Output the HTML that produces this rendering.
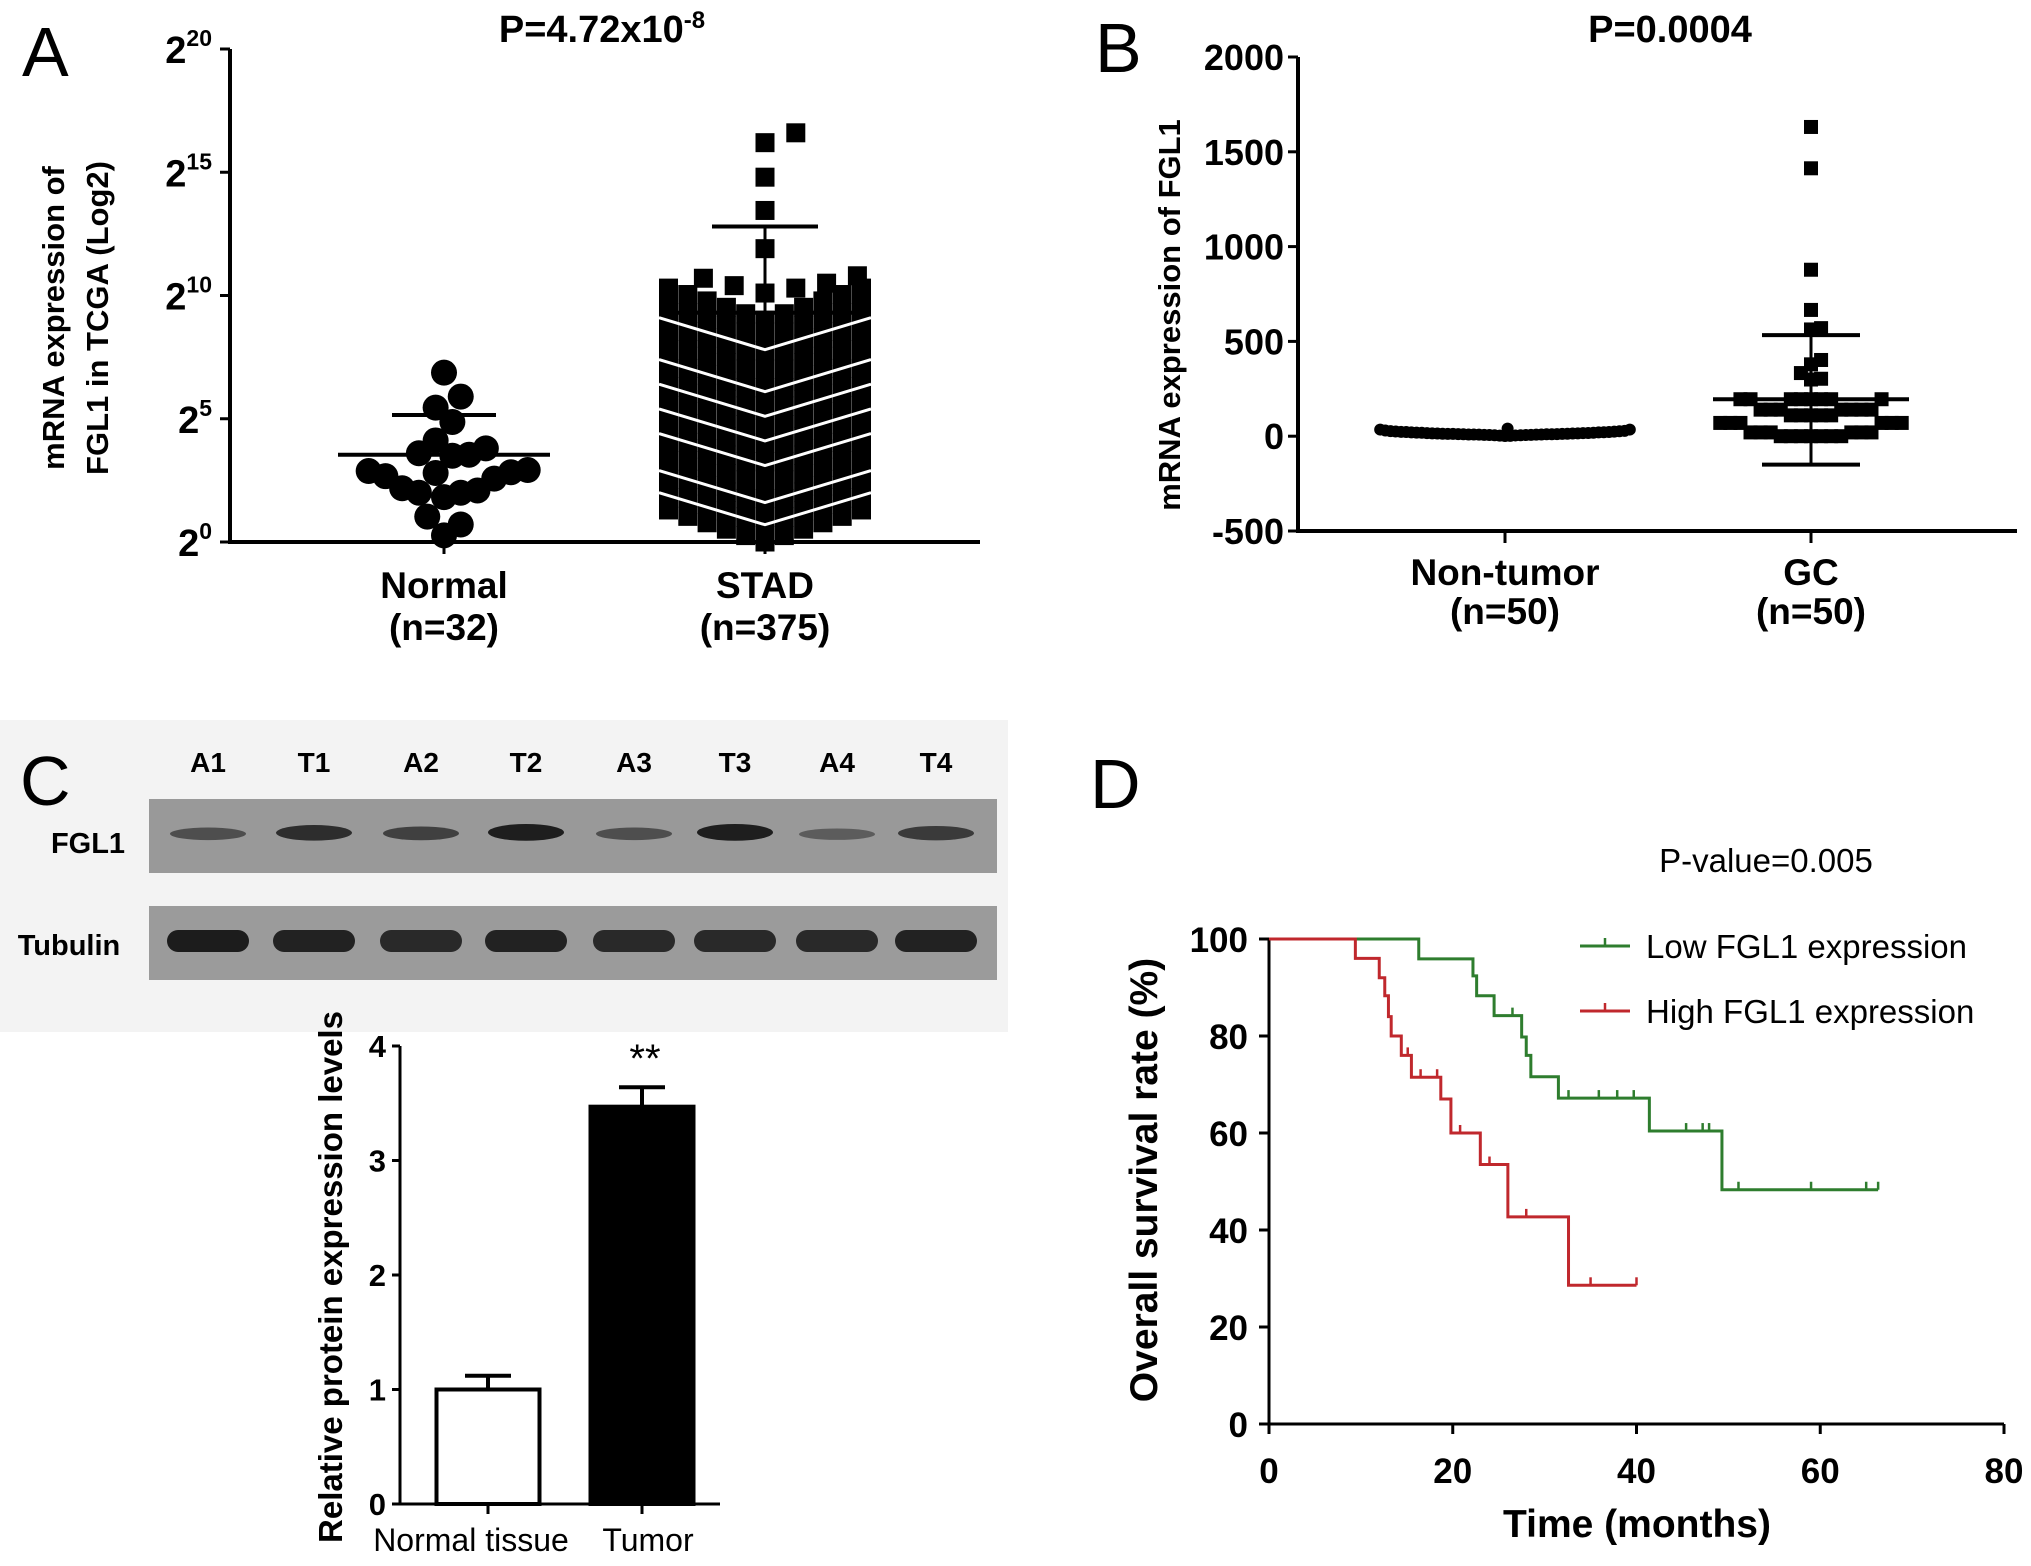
<!DOCTYPE html>
<html><head><meta charset="utf-8">
<style>
html,body{margin:0;padding:0;background:#fff;}
svg{display:block;}
text{font-family:"Liberation Sans Narrow","Liberation Sans",Arial,sans-serif;}
.b{font-weight:bold;}
</style></head>
<body>
<svg id="fig" width="2031" height="1566" viewBox="0 0 2031 1566" xmlns="http://www.w3.org/2000/svg">
<rect x="0" y="0" width="2031" height="1566" fill="#fff"/>
<g id="pA"></g>
<g id="pB"></g>
<g id="pC"></g>
<g id="pD"></g>
</svg>
<script>
// ---------- DATA ----------
const aCategories = ["Normal", "STAD"];
const aCatN = ["(n=32)", "(n=375)"];
const aTicks = [0, 5, 10, 15, 20];
const normalValues = [6.87,5.9,5.45,4.87,4.12,3.6,3.5,3.54,3.8,2.67,2.88,2.8,2.83,2.92,2.57,2.18,2.0,1.82,2.0,2.09,1.03,0.71,0.27];
const normalMean = 3.54, normalSD = 5.15;
const stadRowValues = [0.0,0.75,1.5,2.25,3.0,3.75,4.5,5.25,6.0,6.75,7.5,8.25,9.0];
const stadRowCounts = [11,11,11,11,11,11,11,11,11,11,11,11,11];
const stadGapLevels = [7.8,6.1,5.1,4.1,3.1,1.6,0.7];
const stadOutliers = [16.6,16.2,14.8,13.45,11.9,10.7,10.4,10.1,10.3,10.5,10.8];
const stadMean = 9.3, stadSD = 12.8;
const bCategories = ["Non-tumor", "GC"];
const bCatN = ["(n=50)", "(n=50)"];
const bTicks = [-500, 0, 500, 1000, 1500, 2000];
const nonTumorValues = [5,8,10,12,15,18,20,22,25,28,30,35,40,3,6,9,11,14,16,19,21,24,27,2,4,7,13,17,23,26,1,5,9,12,15,18,22,10,8,6,14,11,20,16,13,7,9,12,10,35];
const gcValues = [1631,1413,878,666,570,563,402,379,333,303,299,195,195,195,195,195,195,195,195,140,140,140,140,140,140,140,110,110,110,110,110,70,70,70,70,70,70,20,20,20,20,20,20,0,0,0,0,0,0,0];
const gcMean = 195, gcSDHi = 533, gcSDLo = -150;
const laneLabels = ["A1","T1","A2","T2","A3","T3","A4","T4"];
const fglIntensity = [0.55,0.8,0.65,0.9,0.55,0.9,0.45,0.7];
const tubIntensity = [0.95,0.9,0.85,0.9,0.85,0.85,0.85,0.9];
const cCategories = ["Normal tissue","Tumor"];
const cValues = [1.0, 3.47];
const cErrors = [0.12, 0.17];
const cTicks = [0,1,2,3,4];
const dXTicks = [0,20,40,60,80];
const dYTicks = [0,20,40,60,80,100];
const lowT = [0,16.3,22.2,22.6,24.5,27.5,28,28.5,31.5,41.4,49.3,66.3];
const lowS = [100,95.9,92.4,88.3,84.2,79.8,76,71.6,67.2,60.4,48.3,48.3];
const lowCensor = [26.5,32.6,35.9,37.9,39.7,45.4,47.2,47.9,51.1,59,65,66.3];
const highT = [0,9.4,12,12.6,13,13.3,14.4,15.5,18.7,19.8,23,26,32.6,40];
const highS = [100,96,92,88.3,84,80,76,71.5,67,60,53.5,42.7,28.6,28.6];
const highCensor = [15.1,16.5,18.3,20.8,24,28,35,40];

const NS = "http://www.w3.org/2000/svg";
function el(parent, tag, attrs, txt){
  const e = document.createElementNS(NS, tag);
  for (const k in attrs) e.setAttribute(k, attrs[k]);
  if (txt !== undefined) e.textContent = txt;
  parent.appendChild(e);
  return e;
}
function swarm(vals, ys, size, euclid){
  const idx = vals.map((v,i)=>i).sort((a,b)=>vals[a]-vals[b]);
  const placed = []; const out = new Array(vals.length);
  idx.forEach(i=>{
    const y = ys(vals[i]);
    for (let k=0;k<400;k++){
      const off = (k%2?1:-1)*Math.ceil(k/2)*size/2;
      let ok = true;
      for (const p of placed){
        if (euclid){ if (Math.hypot(p.x-off,p.y-y) < size*0.98){ok=false;break;} }
        else { if (Math.abs(p.x-off) < size*0.98 && Math.abs(p.y-y) < size*0.98){ok=false;break;} }
      }
      if (ok){ placed.push({x:off,y:y}); out[i]={dx:off,y:y}; break; }
    }
  });
  return out;
}

// ---------- PANEL A ----------
(function(){
  const g = document.getElementById("pA");
  const x0=230, x1=980, yTop=49, yBot=542;
  const ya = v => yBot - (v/20)*(yBot-yTop);
  const cx = [444, 765];
  let t = el(g,"text",{x:22,y:76,"font-size":70,"font-family":"Liberation Sans"},"A");
   
  t = el(g,"text",{x:602,y:42,"font-size":38,"text-anchor":"middle",class:"b"});
   
  el(t,"tspan",{},"P=4.72x10");
  el(t,"tspan",{dy:-14,"font-size":24},"-8");
  let ax = el(g,"path",{d:`M${x0},${yTop} V${yBot} H${x1}`,stroke:"#000","stroke-width":4,fill:"none"});
   
  aTicks.forEach(v=>{
    const y=ya(v);
    el(g,"line",{x1:x0-10,x2:x0,y1:y,y2:y,stroke:"#000","stroke-width":3});
    const tt = el(g,"text",{x:212,y:y+14,"font-size":38,"text-anchor":"end",class:"b"});
     
    el(tt,"tspan",{},"2");
    el(tt,"tspan",{dy:-17,"font-size":23},String(v));
  });
  const yt = el(g,"text",{transform:"translate(64,318) rotate(-90)","font-size":31,"text-anchor":"middle",class:"b","font-family":"Liberation Sans"},"mRNA expression of");
   
  const yt2 = el(g,"text",{transform:"translate(108,318) rotate(-90)","font-size":31,"text-anchor":"middle",class:"b","font-family":"Liberation Sans"},"FGL1 in TCGA (Log2)");
   
  aCategories.forEach((c,i)=>{
    el(g,"line",{x1:cx[i],x2:cx[i],y1:yBot,y2:yBot+12,stroke:"#000","stroke-width":3});
    const l=el(g,"text",{x:cx[i],y:598,"font-size":37,"text-anchor":"middle",class:"b"},c);
     
    const n=el(g,"text",{x:cx[i],y:640,"font-size":37,"text-anchor":"middle",class:"b"},aCatN[i]);
     
  });
  const pos = swarm(normalValues, ya, 27, true);
  pos.forEach(p=>{
    const c=el(g,"circle",{cx:cx[0]+p.dx*0.62,cy:p.y,r:13,fill:"#000"});
     
  });
  const hw=106, sq=19;
  stadRowValues.forEach((v,r)=>{
    const n=stadRowCounts[r];
    for(let k=0;k<n;k++){
      const dx = -hw+sq/2 + k*(2*hw-sq)/(n-1);
      const rise = 1.3*Math.abs(dx)/(hw-sq/2);
      const s=el(g,"rect",{x:cx[1]+dx-sq/2,y:ya(v+rise)-sq/2,width:sq,height:sq,fill:"#000"});
       
    }
  });
  stadGapLevels.forEach(v=>{
    const p=el(g,"polyline",{points:`${cx[1]-hw},${ya(v+1.3)} ${cx[1]},${ya(v)} ${cx[1]+hw},${ya(v+1.3)}`,stroke:"#fff","stroke-width":3,fill:"none"});
     
  });
  const opos = swarm(stadOutliers, ya, 22, false);
  opos.forEach(p=>{
    const s=el(g,"rect",{x:cx[1]+p.dx*1.4-9.5,y:p.y-9.5,width:19,height:19,fill:"#000"});
     
  });
  function msd(c, m, sd, hwm, hws, name){
    const gg=el(g,"g",{});
     
    el(gg,"line",{x1:c-hwm,x2:c+hwm,y1:ya(m),y2:ya(m),stroke:"#000","stroke-width":4});
    el(gg,"line",{x1:c,x2:c,y1:ya(m),y2:ya(sd),stroke:"#000","stroke-width":3});
    el(gg,"line",{x1:c-hws,x2:c+hws,y1:ya(sd),y2:ya(sd),stroke:"#000","stroke-width":4});
  }
  msd(cx[0], normalMean, normalSD, 106, 52, "normal-mean-sd");
  msd(cx[1], stadMean, stadSD, 106, 53, "stad-mean-sd");
})();

// ---------- PANEL B ----------
(function(){
  const g=document.getElementById("pB");
  const x0=1298, x1=2017, yTop=57, yBot=531;
  const yb = v => yBot - (v+500)/2500*(yBot-yTop);
  const cx=[1505,1811];
  let t=el(g,"text",{x:1095,y:72,"font-size":70,"font-family":"Liberation Sans"},"B");
   
  t=el(g,"text",{x:1670,y:42,"font-size":38,"text-anchor":"middle",class:"b"},"P=0.0004");
   
  const ax=el(g,"path",{d:`M${x0},${yTop} V${yBot} H${x1}`,stroke:"#000","stroke-width":4,fill:"none"});
   
  bTicks.forEach(v=>{
    const y=yb(v);
    el(g,"line",{x1:x0-10,x2:x0,y1:y,y2:y,stroke:"#000","stroke-width":3});
    const tt=el(g,"text",{x:1284,y:y+13,"font-size":36,"text-anchor":"end",class:"b"},String(v));
     
  });
  const yt=el(g,"text",{transform:"translate(1180,315) rotate(-90)","font-size":31,"text-anchor":"middle",class:"b","font-family":"Liberation Sans"},"mRNA expression of FGL1");
   
  bCategories.forEach((c,i)=>{
    el(g,"line",{x1:cx[i],x2:cx[i],y1:yBot,y2:yBot+12,stroke:"#000","stroke-width":3});
    const l=el(g,"text",{x:cx[i],y:585,"font-size":37,"text-anchor":"middle",class:"b"},c);
     
    const n=el(g,"text",{x:cx[i],y:624,"font-size":37,"text-anchor":"middle",class:"b"},bCatN[i]);
     
  });
  const np=swarm(nonTumorValues, yb, 8, true);
  np.forEach(p=>{
    const c=el(g,"circle",{cx:cx[0]+p.dx*0.65,cy:p.y,r:6,fill:"#000"});
     
  });
  const gp=swarm(gcValues, yb, 14, false);
  gp.forEach(p=>{
    const s=el(g,"rect",{x:cx[1]+p.dx*0.72-7,y:p.y-7,width:14,height:14,fill:"#000"});
     
  });
  const gg=el(g,"g",{});
   
  el(gg,"line",{x1:cx[1]-98,x2:cx[1]+98,y1:yb(gcMean),y2:yb(gcMean),stroke:"#000","stroke-width":4});
  el(gg,"line",{x1:cx[1],x2:cx[1],y1:yb(gcSDHi),y2:yb(gcSDLo),stroke:"#000","stroke-width":3});
  el(gg,"line",{x1:cx[1]-49,x2:cx[1]+49,y1:yb(gcSDHi),y2:yb(gcSDHi),stroke:"#000","stroke-width":4});
  el(gg,"line",{x1:cx[1]-49,x2:cx[1]+49,y1:yb(gcSDLo),y2:yb(gcSDLo),stroke:"#000","stroke-width":4});
})();

// ---------- PANEL C ----------
(function(){
  const g=document.getElementById("pC");
  const bg=el(g,"rect",{x:0,y:720,width:1008,height:312,fill:"#f3f3f3"});
   
  let t=el(g,"text",{x:20,y:805,"font-size":70,"font-family":"Liberation Sans"},"C");
   
  const laneX=[208,314,421,526,634,735,837,936];
  laneLabels.forEach((l,i)=>{
    const tt=el(g,"text",{x:laneX[i],y:772,"font-size":28,"text-anchor":"middle",class:"b"},l);
     
  });
  const s1=el(g,"rect",{x:149,y:799,width:848,height:74,fill:"#999"});
   
  const s2=el(g,"rect",{x:149,y:906,width:848,height:74,fill:"#9b9b9b"});
   
  t=el(g,"text",{x:88,y:853,"font-size":29,"text-anchor":"middle",class:"b"},"FGL1");
   
  t=el(g,"text",{x:69,y:955,"font-size":29,"text-anchor":"middle",class:"b"},"Tubulin");
   
  laneX.forEach((x,i)=>{
    const a=fglIntensity[i];
    const e=el(g,"ellipse",{cx:x,cy:836-a*4,rx:38,ry:3+a*6,fill:"#111","fill-opacity":a});
     
    const b=tubIntensity[i];
    const e2=el(g,"rect",{x:x-41,y:930,width:82,height:22,rx:11,fill:"#151515","fill-opacity":b});
     
  });
  const x0=400, x1=720, y0=1504, y4=1046;
  const yc=v=>y0-v/4*(y0-y4);
  const bx=[488,642], bw=103;
  const ax=el(g,"path",{d:`M${x0},${y4} V${y0} H${x1}`,stroke:"#000","stroke-width":3,fill:"none"});
   
  cTicks.forEach(v=>{
    el(g,"line",{x1:x0-8,x2:x0,y1:yc(v),y2:yc(v),stroke:"#000","stroke-width":3});
    const tt=el(g,"text",{x:386,y:yc(v)+11,"font-size":31,"text-anchor":"end",class:"b"},String(v));
     
  });
  cCategories.forEach((c,i)=>{
    const eb=el(g,"g",{});
     
    el(eb,"line",{x1:bx[i],x2:bx[i],y1:yc(cValues[i]),y2:yc(cValues[i]+cErrors[i]),stroke:"#000","stroke-width":4});
    el(eb,"line",{x1:bx[i]-23,x2:bx[i]+23,y1:yc(cValues[i]+cErrors[i]),y2:yc(cValues[i]+cErrors[i]),stroke:"#000","stroke-width":4});
    const r=el(g,"rect",{x:bx[i]-bw/2,y:yc(cValues[i]),width:bw,height:y0-yc(cValues[i]),fill:i?"#000":"#fff",stroke:"#000","stroke-width":4});
     
    el(g,"line",{x1:bx[i],x2:bx[i],y1:y0,y2:y0+10,stroke:"#000","stroke-width":3});
    const l=el(g,"text",{x:i?648:471,y:1551,"font-size":32,"text-anchor":"middle"},c);
     
  });
  t=el(g,"text",{x:645,y:1072,"font-size":40,"text-anchor":"middle","font-family":"Liberation Sans"},"**");
   
  t=el(g,"text",{transform:"translate(342,1277) rotate(-90)","font-size":33,"text-anchor":"middle",class:"b","font-family":"Liberation Sans"},"Relative protein expression levels");
   
})();

// ---------- PANEL D ----------
(function(){
  const g=document.getElementById("pD");
  const x0=1269, x80=2004, y0=1424, y100=939;
  const xd=v=>x0+v/80*(x80-x0), yd=v=>y0-v/100*(y0-y100);
  let t=el(g,"text",{x:1090,y:808,"font-size":70,"font-family":"Liberation Sans"},"D");
   
  t=el(g,"text",{x:1766,y:872,"font-size":33,"text-anchor":"middle","font-family":"Liberation Sans"},"P-value=0.005");
   
  const ax=el(g,"path",{d:`M${x0},${y100} V${y0} H${x80}`,stroke:"#000","stroke-width":3,fill:"none"});
   
  dYTicks.forEach(v=>{
    el(g,"line",{x1:x0-10,x2:x0,y1:yd(v),y2:yd(v),stroke:"#000","stroke-width":3});
    const tt=el(g,"text",{x:1248,y:yd(v)+13,"font-size":35,"text-anchor":"end",class:"b"},String(v));
     
  });
  dXTicks.forEach(v=>{
    el(g,"line",{x1:xd(v),x2:xd(v),y1:y0,y2:y0+10,stroke:"#000","stroke-width":3});
    const tt=el(g,"text",{x:xd(v),y:1483,"font-size":35,"text-anchor":"middle",class:"b"},String(v));
     
  });
  t=el(g,"text",{x:1637,y:1537,"font-size":39,"text-anchor":"middle",class:"b"},"Time (months)");
   
  t=el(g,"text",{transform:"translate(1157,1180) rotate(-90)","font-size":39,"text-anchor":"middle",class:"b","font-family":"Liberation Sans"},"Overall survival rate (%)");
   
  function km(T,S,C,color,name){
    let d=`M${xd(T[0])},${yd(S[0])}`;
    for(let i=1;i<T.length;i++){ d+=` H${xd(T[i])} V${yd(S[i])}`; }
    const p=el(g,"path",{d:d,stroke:color,"stroke-width":3,fill:"none"});
     
    C.forEach(c=>{
      let s=S[0]; for(let i=0;i<T.length;i++){ if(T[i]<=c) s=S[i]; }
      const m=el(g,"line",{x1:xd(c),x2:xd(c),y1:yd(s),y2:yd(s)-8,stroke:color,"stroke-width":2.5});
       
    });
  }
  km(lowT,lowS,lowCensor,"#2e7d2e","low-fgl1-curve");
  km(highT,highS,highCensor,"#c0282d","high-fgl1-curve");
  const lg=el(g,"g",{});
   
  const items=[["Low FGL1 expression","#2e7d2e",946],["High FGL1 expression","#c0282d",1011]];
  items.forEach(it=>{
    const e=el(lg,"g",{});
     
    el(e,"line",{x1:1580,x2:1630,y1:it[2],y2:it[2],stroke:it[1],"stroke-width":3});
    el(e,"line",{x1:1605,x2:1605,y1:it[2],y2:it[2]-8,stroke:it[1],"stroke-width":2.5});
    el(e,"text",{x:1646,y:it[2]+12,"font-size":33,"font-family":"Liberation Sans"},it[0]);
  });
})();
</script>
</body></html>
